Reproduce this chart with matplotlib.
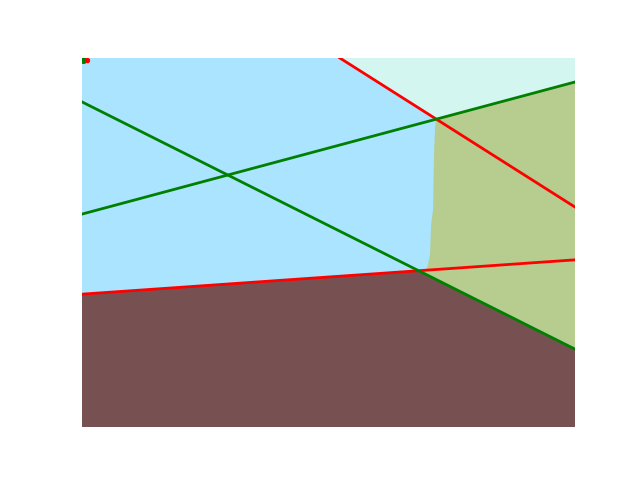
import numpy as np
import matplotlib.pyplot as plt

# --- region boundaries (data units, axes span 0..100) ---
cyan_x = [52.3, 71.8, 100, 100]
cyan_y = [100, 83.5, 93.5, 100]

olive_x = [71.8, 100, 100, 68.3, 70.0, 70.6, 70.8, 71.2, 71.4, 71.6]
olive_y = [83.5, 93.5, 20.5, 42.0, 43.1, 46.6, 54.7, 58.8, 73.7, 80.5]

brown_x = [0, 0, 68.3, 100, 100]
brown_y = [0, 36.0, 42.3, 21.1, 0]

# --- separating lines ---
red_lines = [([0, 100], [36.0, 45.3]), ([52.3, 100], [100, 59.6])]
green_lines = [([0, 100], [57.7, 93.5]), ([0, 100], [88.1, 21.1])]

# corner points
pts_green = ([0.3], [99.6])
pts_red = ([1.0], [99.4])

fig = plt.figure(figsize=(6.4, 4.8), dpi=100)
ax = fig.add_axes([82 / 640, 53 / 480, 493 / 640, 369 / 480])
ax.set_xlim(0, 100)
ax.set_ylim(0, 100)
ax.fill([0, 100, 100, 0], [0, 0, 100, 100], color='#aae4fe', lw=0)
ax.fill(cyan_x, cyan_y, color='#d3f7f0', lw=0)
ax.fill(olive_x, olive_y, color='#b6cd8f', lw=0)
ax.fill(brown_x, brown_y, color='#775151', lw=0)

for xs, ys in red_lines:
    ax.plot(xs, ys, color='red', lw=2)
for xs, ys in green_lines:
    ax.plot(xs, ys, color='green', lw=2)

ax.scatter(*pts_green, color='green', s=30, zorder=5)
ax.scatter(*pts_red, color='red', s=8, zorder=6)

ax.axis('off')
plt.savefig('out.png')
